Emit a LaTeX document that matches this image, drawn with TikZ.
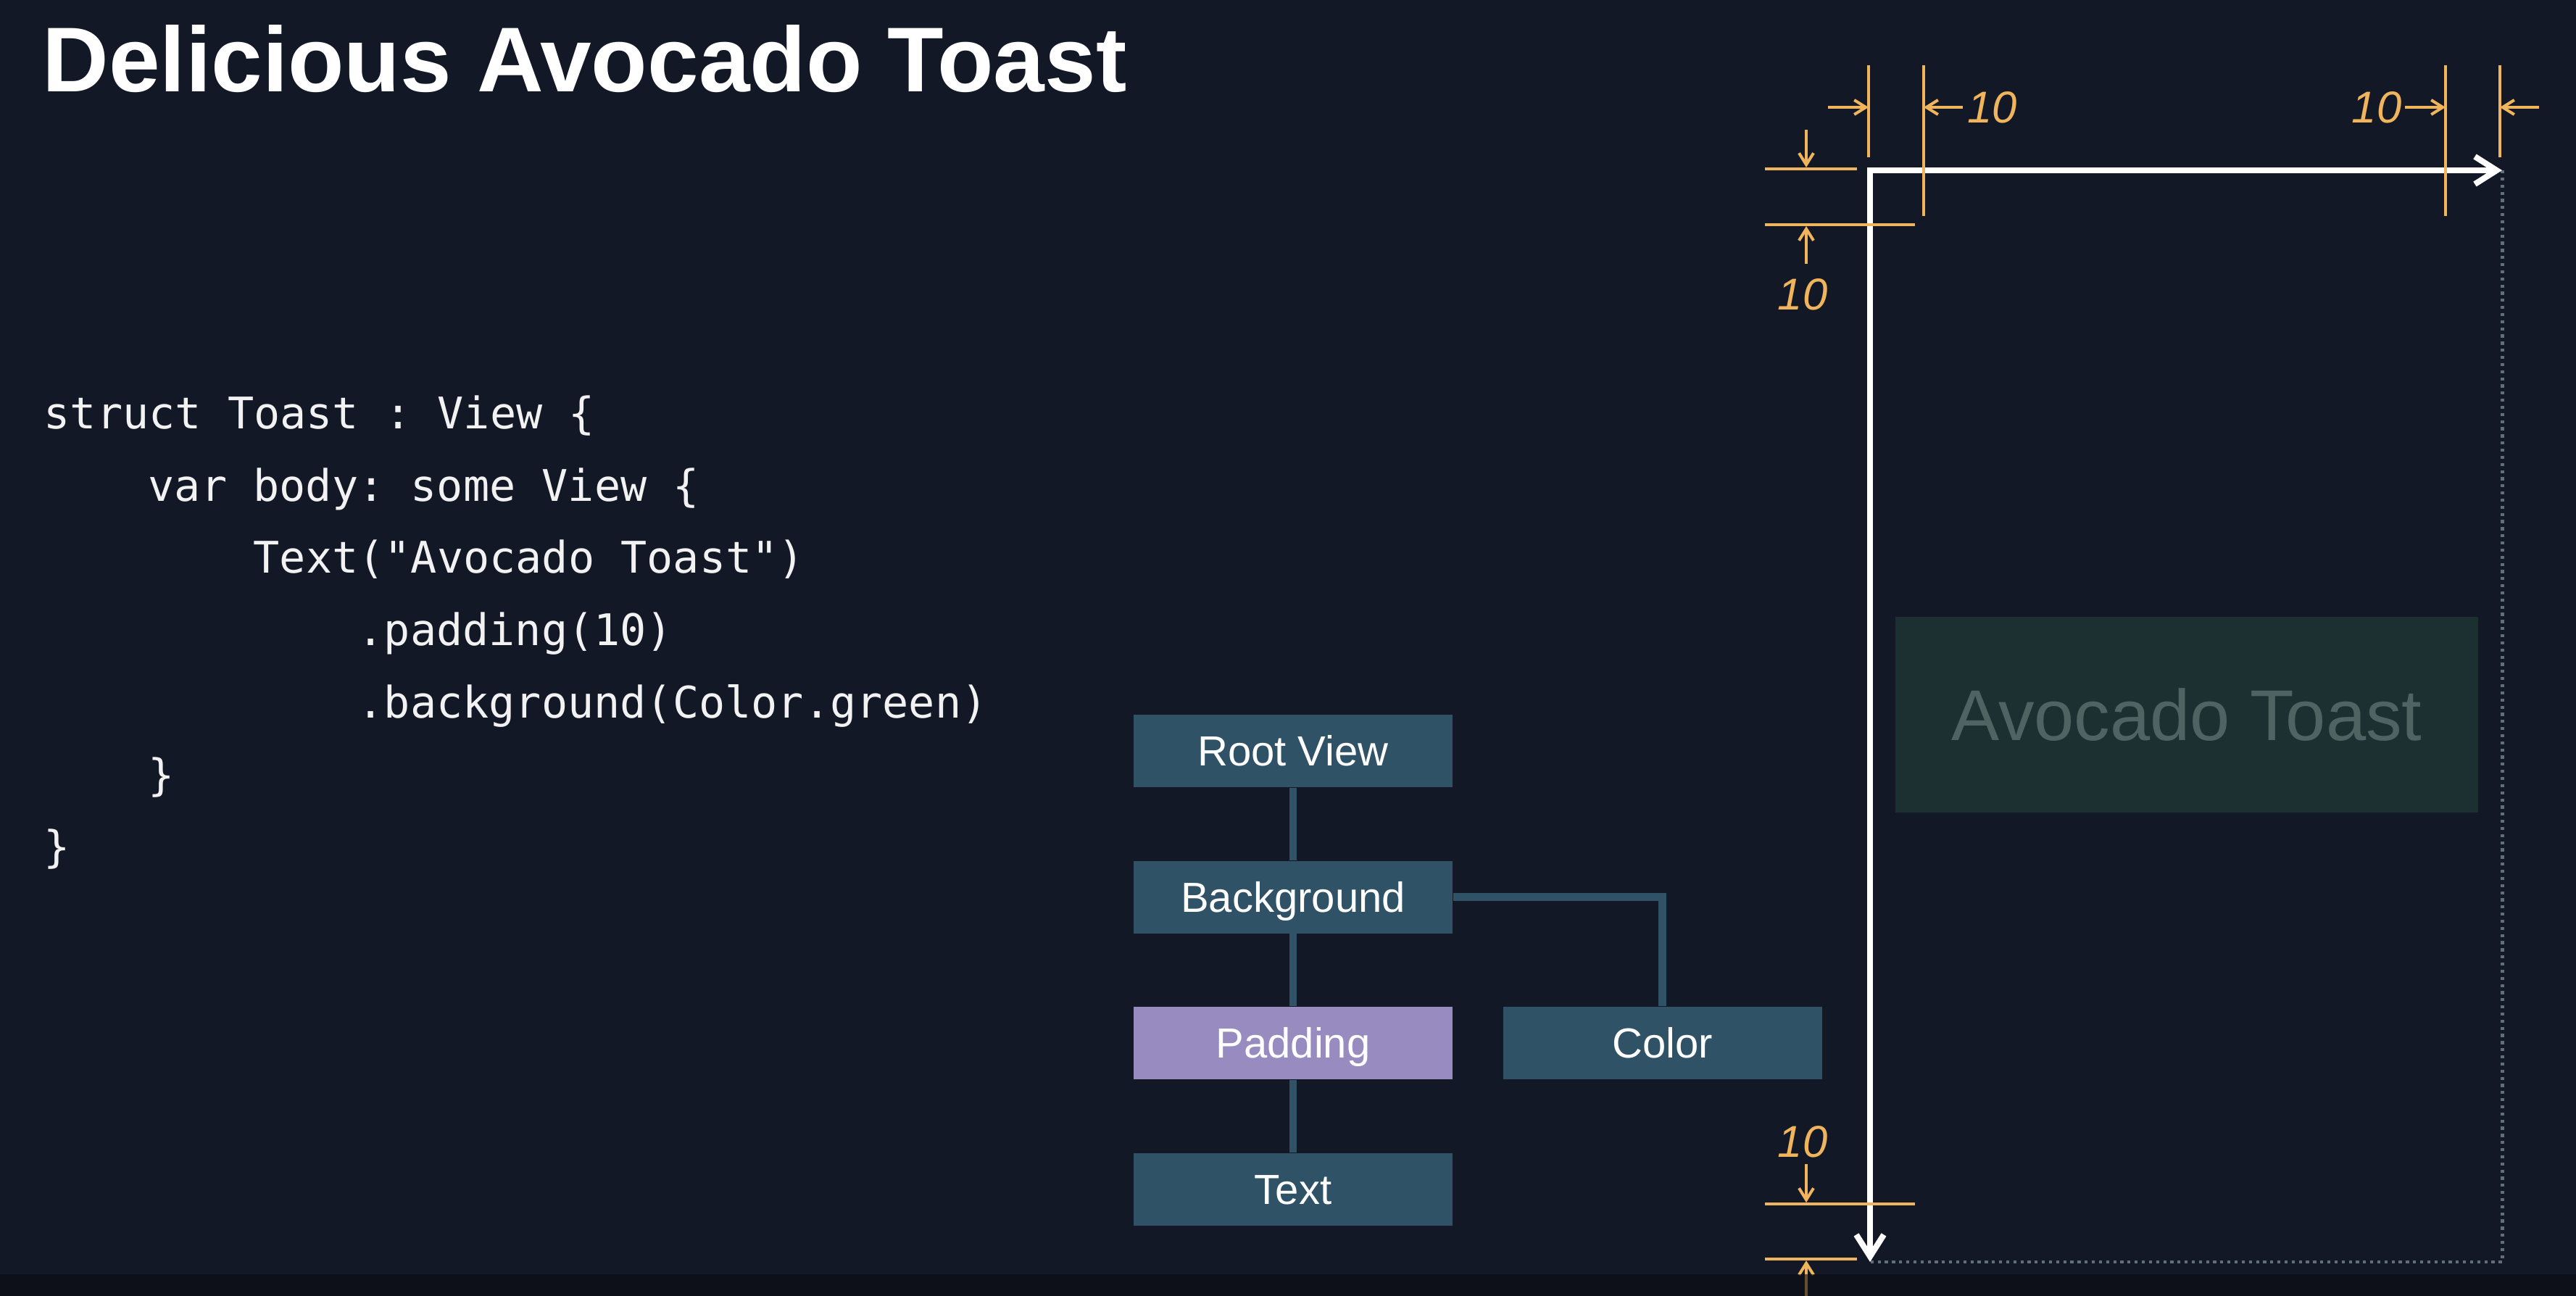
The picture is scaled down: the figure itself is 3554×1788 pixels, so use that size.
\documentclass[tikz,border=0pt]{standalone}
\usepackage{fontspec}
\setmainfont{Liberation Sans}
\setmonofont{DejaVu Sans Mono}
\usetikzlibrary{positioning,arrows.meta}

\begin{document}
\begin{tikzpicture}[x=0.01cm, y=-0.01cm,
  treebox/.style={rectangle, fill=treeColor, minimum width=4.4cm, minimum height=1cm,
    inner sep=0pt, text=white, font=\fontsize{16.5}{16.5}\selectfont,
    text height=0.415cm, text depth=0pt},
  treeline/.style={treeColor, line width=3.1pt},
  codeline/.style={anchor=base west, inner sep=0pt, text=codeColor,
    font=\ttfamily\fontsize{17.1}{17.1}\selectfont},
  dimline/.style={dimColor, line width=1.14pt},
  dimarrow/.style={dimline, -{Straight Barb[length=0.16cm, width=0.2cm]}},
  dimlabel/.style={inner sep=0pt, text=dimColor, font=\itshape\fontsize{17.5}{17.5}\selectfont},
  framearrow/.style={white, line width=2.3pt, line join=miter,
    {Straight Barb[length=0.3cm, width=0.38cm]}-{Straight Barb[length=0.3cm, width=0.38cm]}},
  framedots/.style={dotColor, line width=1.4pt, dash pattern=on 1.2pt off 1.6pt},
]
% Colors
\definecolor{bgColor}{RGB}{19,24,38}
\definecolor{treeColor}{RGB}{47,82,102}
\definecolor{padColor}{RGB}{151,139,192}
\definecolor{codeColor}{RGB}{242,242,242}
\definecolor{dimColor}{RGB}{240,181,92}
\definecolor{toastFill}{RGB}{29,48,49}
\definecolor{toastText}{RGB}{79,99,99}
\definecolor{dotColor}{RGB}{98,110,124}
\definecolor{stripColor}{RGB}{10,12,16}
% Page
\useasboundingbox (0,0) rectangle (3554,1788);
\fill[bgColor] (0,0) rectangle (3554,1788);
% Title and code
\node[anchor=base west, inner sep=0pt, text=white,
  font=\bfseries\fontsize{36.1}{36.1}\selectfont] (title) at (58,127) {Delicious Avocado Toast};
\node[codeline] (code1) at ( 60, 591) {struct Toast : View \{};
\node[codeline] (code2) at (204, 691) {var body: some View \{};
\node[codeline] (code3) at (349, 790) {Text("Avocado Toast")};
\node[codeline] (code4) at (493, 890) {.padding(10)};
\node[codeline] (code5) at (493, 990) {.background(Color.green)};
\node[codeline] (code6) at (204,1090) {\}};
\node[codeline] (code7) at ( 60,1189) {\}};
% View tree
\node[treebox] (root) at (1784,1036) {Root View};
\node[treebox, below=1cm of root] (background) {Background};
\node[treebox, fill=padColor, below=1cm of background] (padding) {Padding};
\node[treebox, below=1cm of padding] (text) {Text};
\node[treebox, right=0.68cm of padding] (color) {Color};
\draw[treeline] (root) -- (background);
\draw[treeline] (background) -- (padding);
\draw[treeline] (padding) -- (text);
\draw[treeline] (background.east) -| (color.north);
% Rendered view
\node[rectangle, fill=toastFill, minimum width=8.04cm, minimum height=2.69cm, inner sep=0pt,
  text=toastText, font=\fontsize{28.2}{28.2}\selectfont, text height=0.71cm, text depth=0pt]
  (toast) at (3017,986) {Avocado Toast};
\coordinate (corner) at (2580,235);
\coordinate (rightEnd) at (3452,235);
\coordinate (bottomEnd) at (2580,1741);
\draw[framedots] (rightEnd) |- (bottomEnd);
\draw[framearrow] (bottomEnd) -- (corner) -- (rightEnd);
% Padding dimensions
\begin{scope}
	\draw[dimline] (2578, 90) -- (2578, 217);
	\draw[dimline] (2654, 90) -- (2654, 298);
	\draw[dimarrow] (2522,148) -- (2578,148);
	\draw[dimarrow] (2708,148) -- (2654,148);
	\node[dimlabel, anchor=west] (padLeft) at (2714,148) {10};
	\draw[dimline] (3374, 90) -- (3374, 298);
	\draw[dimline] (3449, 90) -- (3449, 217);
	\draw[dimarrow] (3318,148) -- (3374,148);
	\draw[dimarrow] (3503,148) -- (3449,148);
	\node[dimlabel, anchor=east] (padRight) at (3314,148) {10};
	\draw[dimline] (2435, 233) -- (2562, 233);
	\draw[dimline] (2435, 310) -- (2642, 310);
	\draw[dimarrow] (2492,179) -- (2492,231);
	\draw[dimarrow] (2492,364) -- (2492,312);
	\node[dimlabel] (padTop) at (2487,406) {10};
	\node[dimlabel] (padBottom) at (2487,1575) {10};
	\draw[dimarrow] (2492,1606) -- (2492,1659);
	\draw[dimline] (2435,1661) -- (2642,1661);
	\draw[dimline] (2435,1737) -- (2562,1737);
	\draw[dimarrow] (2492,1788) -- (2492,1739);
\end{scope}
% Caption strip
\fill[stripColor, opacity=0.6] (0,1758) rectangle (3554,1788);
\end{tikzpicture}
\end{document}
